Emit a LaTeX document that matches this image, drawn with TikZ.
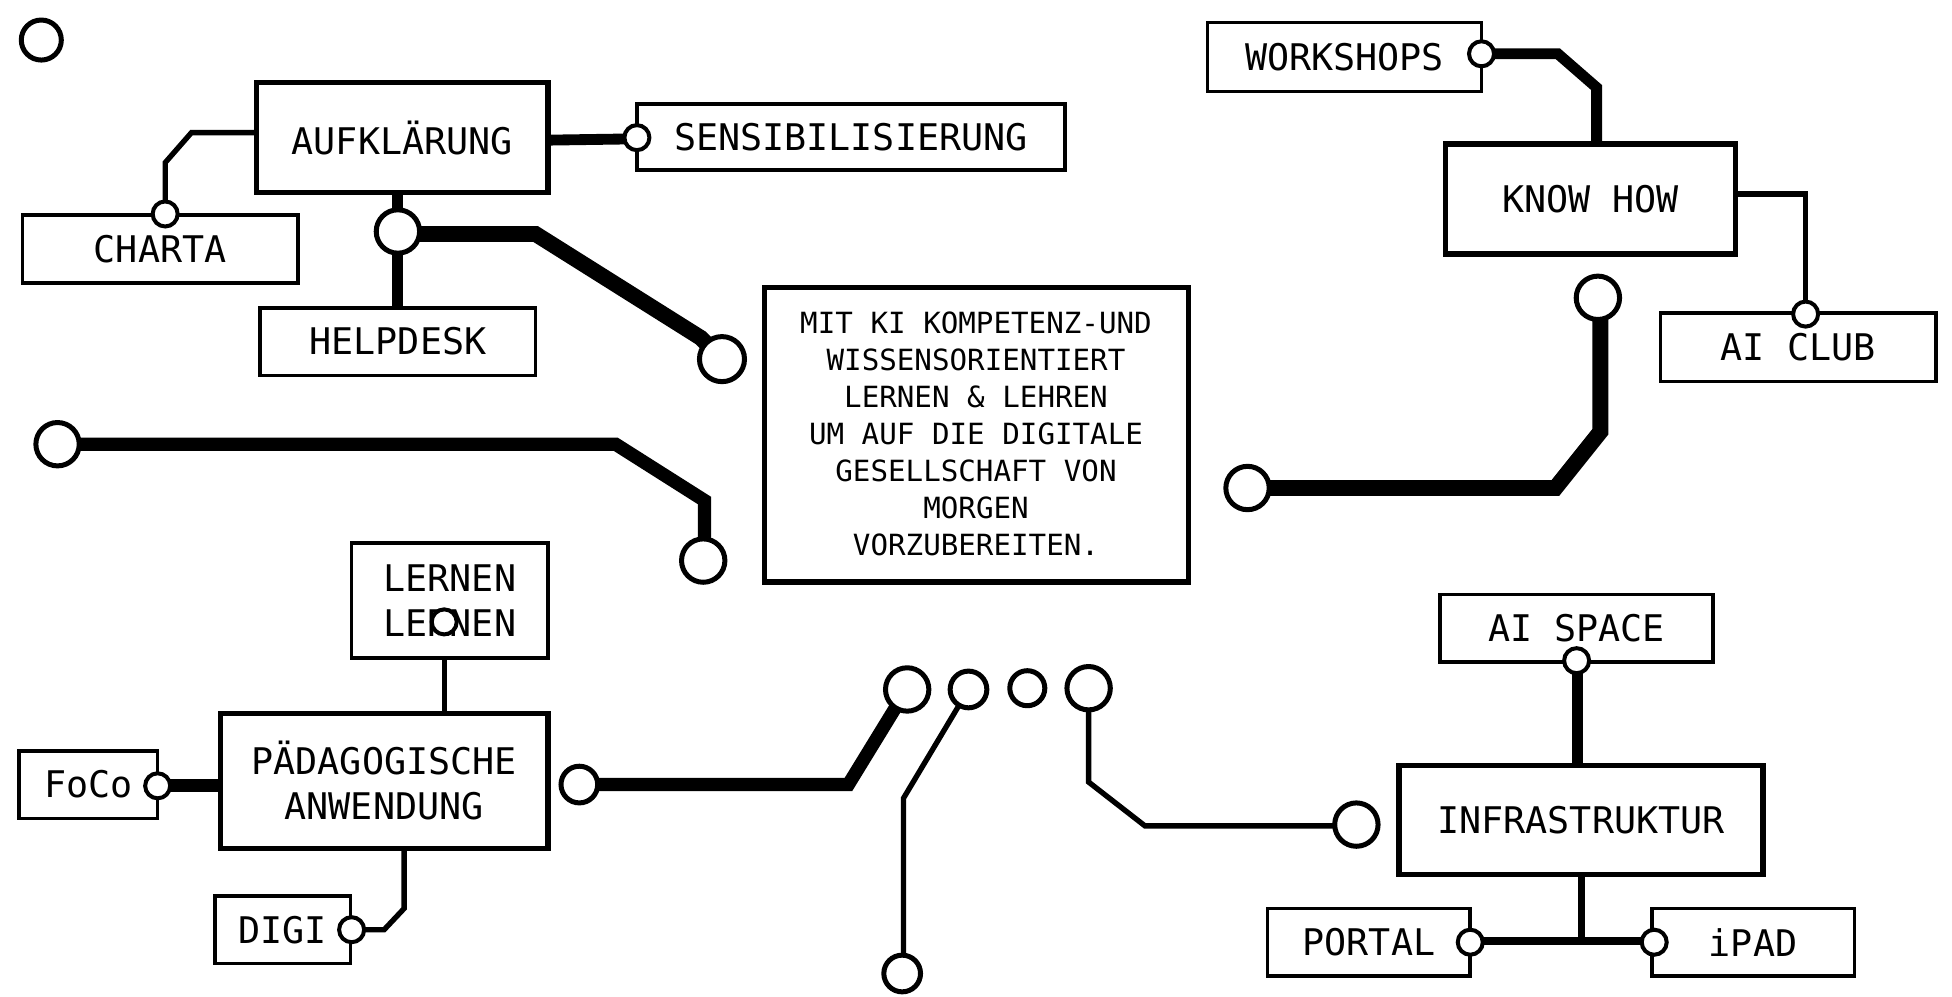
\documentclass[tikz,border=0pt]{standalone}
\usepackage{fontspec}
\setmonofont{DejaVu Sans Mono}
\begin{document}
\begin{tikzpicture}[x=0.75pt,y=-0.75pt,
  box/.style={draw,line width=2.2pt,fill=white,inner sep=0pt,font=\ttfamily\fontsize{22}{27}\selectfont,align=center},
  bigbox/.style={box,line width=3.2pt},
  ring/.style={circle,draw,line width=3pt,fill=white,inner sep=0pt,minimum size=#1},
  dot/.style={circle,draw,line width=2.4pt,fill=white,inner sep=0pt,minimum size=15},
  w4/.style={line width=3.2pt},w8/.style={line width=6.5pt},w10/.style={line width=8pt},w12/.style={line width=9.5pt}]
\useasboundingbox (0,0) rectangle (1560,796);
\def\bx#1#2#3#4#5#6#7{\node[#1,minimum width={(#5-#3)*0.75pt},minimum height={(#6-#4)*0.75pt}] (#2) at ({(#3+#5)/2},{(#4+#6)/2}) {#7};}
% lines first
\coordinate (a1) at (318,154); \coordinate (a2) at (318,246);
\draw[w8] (a1)--(a2);
\coordinate (s1) at (438,112); \coordinate (s2) at (505,111);
\draw[w8] (s1)--(s2);
\draw[w4] (132,171)--(132,130)--(153,106)--(205,106);
\draw[w12] (318,187)--(428,187)--(560,270)--(577,287);
\draw[w10] (46,355)--(492,355)--(563,400)--(563,448);
\draw[w8] (1184,43)--(1245,43)--(1276,70)--(1276,115);
\draw[w4] (1387,155)--(1443,155)--(1443,251);
\draw[w12] (1279,238)--(1279,345)--(1243,390)--(997,390);
\draw[w4] (355,497)--(355,570);
\draw[w10] (126,628)--(176,628);
\draw[w4] (281,743)--(307,743)--(323,726)--(323,678);
\draw[w10] (463,627)--(678,627)--(716,565)--(725,551);
\draw[w4] (774,551)--(722,638)--(722,778);
\draw[w4] (870,550)--(870,625)--(915,660)--(1084,660);
\draw[w8] (1261,528)--(1261,612);
\draw[line width=4.5pt] (1264,699)--(1264,752);
\draw[line width=4.5pt] (1175,752)--(1322,752);
% boxes
\bx{bigbox}{auf}{205}{66}{438}{154}{AUFKLÄRUNG}
\bx{box}{sens}{509}{83}{851}{136}{SENSIBILISIERUNG}
\bx{box}{charta}{18}{172}{238}{226}{CHARTA}
\bx{box}{help}{208}{246}{428}{300}{HELPDESK}
\bx{bigbox}{center}{611}{230}{950}{465}{}
\node[font=\ttfamily\fontsize{17.5}{22.2}\selectfont,align=center] (ctext) at (780,347) {MIT KI KOMPETENZ-UND\\WISSENSORIENTIERT\\LERNEN \& LEHREN\\UM AUF DIE DIGITALE\\GESELLSCHAFT VON\\MORGEN\\VORZUBEREITEN.};
\bx{box}{work}{965}{18}{1184}{73}{WORKSHOPS}
\bx{bigbox}{know}{1155}{115}{1387}{203}{KNOW HOW}
\bx{box}{aiclub}{1327}{250}{1547}{305}{AI CLUB}
\bx{box}{ll}{281}{434}{438}{526}{LERNEN\\LERNEN}
\bx{bigbox}{paed}{176}{570}{438}{678}{PÄDAGOGISCHE\\ANWENDUNG}
\bx{box}{foco}{15}{600}{126}{654}{FoCo}
\bx{box}{digi}{172}{716}{280}{770}{DIGI}
\bx{box}{aispace}{1151}{475}{1369}{529}{AI SPACE}
\bx{bigbox}{infra}{1118}{612}{1409}{699}{INFRASTRUKTUR}
\bx{box}{portal}{1013}{726}{1175}{780}{PORTAL}
\bx{box}{ipad}{1320}{726}{1482}{780}{iPAD}
% rings
\node[ring=24] (r0) at (33,32) {};
\node[ring=26] (r1) at (318,185) {};
\node[ring=27] (r2) at (577,287) {};
\node[ring=26] (r3) at (46,355) {};
\node[ring=26] (r4) at (562,448) {};
\node[ring=26] (r5) at (1277,238) {};
\node[ring=26] (r6) at (997,390) {};
\node[ring=22] (r7) at (463,627) {};
\node[ring=26] (r8) at (725,551) {};
\node[ring=22] (r9) at (774,551) {};
\node[ring=21] (r10) at (821,550) {};
\node[ring=26] (r11) at (870,550) {};
\node[ring=22] (r12) at (721,778) {};
\node[ring=26] (r13) at (1084,659) {};
% dots
\node[dot] (d1) at (509,110) {};
\node[dot] (d2) at (132,171) {};
\node[dot] (d3) at (1184,43) {};
\node[dot] (d4) at (1443,251) {};
\node[dot] (d5) at (355,497) {};
\node[dot] (d6) at (126,628) {};
\node[dot] (d7) at (281,743) {};
\node[dot] (d8) at (1260,528) {};
\node[dot] (d9) at (1175,753) {};
\node[dot] (d10) at (1322,753) {};
\end{tikzpicture}
\end{document}
